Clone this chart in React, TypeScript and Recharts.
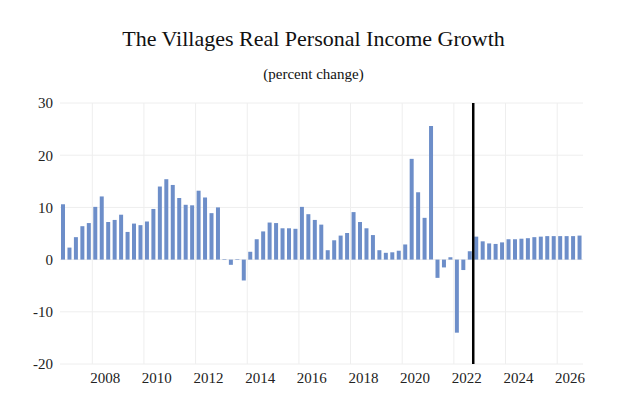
import React from 'react'
import { BarChart, Bar, XAxis, YAxis, CartesianGrid, ReferenceLine } from 'recharts'

// quarterly series, first bar is 2006 Q4
const startYear = 2006
const startQuarter = 4

const growth = [
  10.6, 2.3, 4.3, 6.4, 7.0, 10.1, 12.1, 7.2, 7.6, 8.6, 5.3, 6.9, 6.6, 7.3, 9.7, 14.0, 15.4, 14.3, 11.8,
  10.5, 10.4, 13.2, 11.9, 8.9, 10.0, 0.1, -1.0, 0.1, -4.0, 1.5, 3.9, 5.4, 7.1, 7.0, 6.0, 6.0, 5.9, 10.1, 8.7, 7.6,
  6.7, 1.8, 3.7, 4.6, 5.1, 9.1, 7.2, 6.0, 4.7, 1.8, 1.3, 1.4, 1.7, 2.9, 19.3, 12.9, 8.0, 25.6, -3.5, -1.5, 0.45, -14.0,
  -2.0, 1.6, 4.4, 3.5, 3.1, 3.0, 3.3, 3.9, 3.9, 4.0, 4.1, 4.3, 4.4, 4.5, 4.5, 4.5, 4.5, 4.5, 4.6,
]

const quarters = growth.map((_, i) => {
  const q = startQuarter - 1 + i
  return `${startYear + Math.floor(q / 4)}Q${(q % 4) + 1}`
})

const labelYears = [2008, 2010, 2012, 2014, 2016, 2018, 2020, 2022, 2024, 2026]
const yTicks = [-20, -10, 0, 10, 20, 30]
const forecastStart = '2022Q4'

const data = quarters.map((q, i) => ({ q, value: growth[i] }))

const W = 627
const H = 415
const margin = { top: 103, right: 44, bottom: 21, left: 10 }
const yAxisW = 50
const band = (W - margin.left - margin.right - yAxisW) / data.length

const font = 'Liberation Serif'

function YearTick(props: any) {
  const { x, y, payload } = props
  return (
    <text x={x + band / 2} y={y} dy="0.71em" textAnchor="middle" fontSize={15} fontFamily={font} fill="#222">
      {String(payload.value).slice(0, 4)}
    </text>
  )
}

export default function App() {
  return (
    <div style={{ position: 'absolute', left: 0, top: 0, width: W, height: H, background: '#fff', fontFamily: font }}>
      <div style={{ position: 'absolute', top: 26, width: W, textAlign: 'center', fontSize: 22, color: '#111' }}>
        The Villages Real Personal Income Growth
      </div>
      <div style={{ position: 'absolute', top: 66, width: W, textAlign: 'center', fontSize: 15, color: '#111' }}>
        (percent change)
      </div>
      <BarChart width={W} height={H} data={data} margin={margin} style={{ fontFamily: font }}>
        <CartesianGrid vertical={false} stroke="#eeeeee" />
        {labelYears.map(yr => (
          <ReferenceLine key={yr} x={`${yr}Q1`} position="start" stroke="#eeeeee" />
        ))}
        <XAxis
          dataKey="q"
          ticks={labelYears.map(yr => `${yr}Q2`)}
          interval={0}
          tick={<YearTick />}
          axisLine={false}
          tickLine={false}
          tickSize={0}
          tickMargin={8}
        />
        <YAxis
          width={yAxisW}
          domain={[-20, 30]}
          ticks={yTicks}
          axisLine={false}
          tickLine={false}
          tickSize={0}
          tickMargin={7}
          tick={{ fontSize: 15, fontFamily: font, fill: '#222' }}
        />
        <Bar dataKey="value" fill="#6d8ec9" barSize={4} isAnimationActive={false} />
        <ReferenceLine x={forecastStart} position="start" stroke="#000" strokeWidth={2.5} />
      </BarChart>
    </div>
  )
}
